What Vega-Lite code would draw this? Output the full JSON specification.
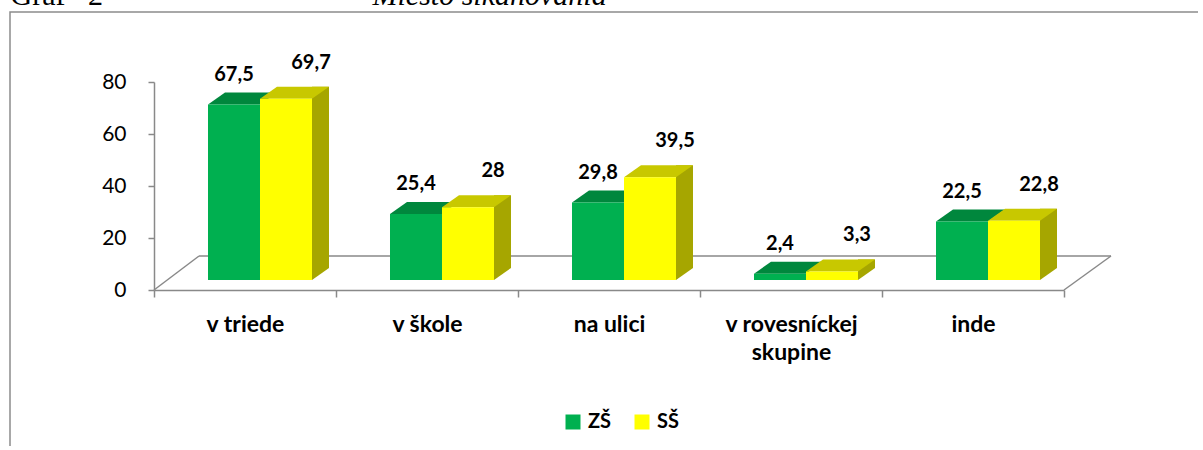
{
  "$schema": "https://vega.github.io/schema/vega-lite/v6.json",
  "width": 1194,
  "height": 440,
  "autosize": "none",
  "padding": {"left": 10, "top": 12, "right": -6, "bottom": -6},
  "background": "white",
  "config": {
    "view": {"stroke": "#8c8c8c", "strokeWidth": 1.5},
    "font": "Lato",
    "locale": {"number": {"decimal": ",", "thousands": " ", "grouping": [3], "currency": ["", " €"]}}
  },
  "layer": [
    {
      "data": {"values": [{}]},
      "layer": [
        {
          "mark": {"type": "rule", "color": "#898989", "strokeWidth": 1.5, "xOffset": 45, "x2Offset": 47, "yOffset": -34, "y2Offset": -34},
          "encoding": {
            "x": {"datum": 0, "type": "quantitative", "scale": {"domain": [0, 1], "range": [144, 1054], "nice": false, "zero": false}, "axis": null},
            "x2": {"datum": 1},
            "y": {"datum": 0, "type": "quantitative"},
            "y2": {"datum": 0}
          }
        },
        {
          "mark": {"type": "rule", "color": "#898989", "strokeWidth": 1.5, "x2Offset": 45, "y2Offset": -34},
          "encoding": {
            "x": {"datum": 0, "type": "quantitative", "scale": {"domain": [0, 1], "range": [144, 1054], "nice": false, "zero": false}, "axis": null},
            "x2": {"datum": 0},
            "y": {"datum": 0, "type": "quantitative"},
            "y2": {"datum": 0}
          }
        },
        {
          "mark": {"type": "rule", "color": "#898989", "strokeWidth": 1.5, "x2Offset": 47, "y2Offset": -34},
          "encoding": {
            "x": {"datum": 1, "type": "quantitative", "scale": {"domain": [0, 1], "range": [144, 1054], "nice": false, "zero": false}, "axis": null},
            "x2": {"datum": 1},
            "y": {"datum": 0, "type": "quantitative"},
            "y2": {"datum": 0}
          }
        }
      ]
    },
    {
      "data": {"values": [
        {"k": "v triede", "s": "ZŠ", "v": 67.5},
        {"k": "v triede", "s": "SŠ", "v": 69.7},
        {"k": "v škole", "s": "ZŠ", "v": 25.4},
        {"k": "v škole", "s": "SŠ", "v": 28},
        {"k": "na ulici", "s": "ZŠ", "v": 29.8},
        {"k": "na ulici", "s": "SŠ", "v": 39.5},
        {"k": "v rovesníckej skupine", "s": "ZŠ", "v": 2.4},
        {"k": "v rovesníckej skupine", "s": "SŠ", "v": 3.3},
        {"k": "inde", "s": "ZŠ", "v": 22.5},
        {"k": "inde", "s": "SŠ", "v": 22.8}
      ]},
      "encoding": {
        "x": {
          "field": "k", "type": "nominal",
          "sort": ["v triede", "v škole", "na ulici", "v rovesníckej skupine", "inde"],
          "scale": {"range": [144, 1054], "paddingInner": 0, "paddingOuter": 0},
          "axis": {
            "title": "Graf\u00a0\u00a0\u00a02", "titleX": 0, "titleY": -286, "titleAlign": "left", "titleAnchor": "start", "titleBaseline": "alphabetic",
            "titleFont": "Liberation Serif", "titleFontSize": 30, "titleFontWeight": "normal", "titleColor": "black",
            "offset": -162, "tickBand": "extent", "tickSize": 7, "tickColor": "#898989", "tickWidth": 1.5,
            "domainColor": "#898989", "domainWidth": 1.5, "grid": false,
            "labelFont": "Lato", "labelFontWeight": "bold", "labelFontSize": 23, "labelColor": "black",
            "labelPadding": 16, "labelAngle": 0, "labelLineHeight": 28, "labelBaseline": "top",
            "labelExpr": "datum.label == 'v rovesníckej skupine' ? ['v rovesníckej', 'skupine'] : datum.label"
          }
        }
      },
      "layer": [
        {
          "transform": [{"filter": "datum.s === 'SŠ'"}],
          "mark": {"type": "bar", "width": 17, "xOffset": 75.5, "yOffset": -22, "y2Offset": -22, "fill": "#A6A600"},
          "encoding": {
            "y": {
              "field": "v", "type": "quantitative",
              "scale": {"domain": [0, 80], "range": [278, 70], "nice": false},
              "axis": {
                "title": "Miesto šikanovania", "titleAngle": 0, "titleX": 218, "titleY": -8, "titleAlign": "left", "titleAnchor": "start", "titleBaseline": "alphabetic",
                "titleFont": "Liberation Serif", "titleFontSize": 30, "titleFontWeight": "normal", "titleFontStyle": "italic", "titleColor": "black",
                "offset": -144, "values": [0, 20, 40, 60, 80], "tickSize": 6, "tickColor": "#898989", "tickWidth": 1.5,
                "domainColor": "#898989", "domainWidth": 1.5, "grid": false,
                "labelFont": "Lato", "labelFontSize": 21, "labelColor": "black", "labelPadding": 22
              }
            }
          }
        },
        {
          "transform": [{"filter": "datum.s === 'SŠ'"}],
          "mark": {"type": "point", "shape": "M67,-12L67,0L84,-12Z", "size": 4, "filled": true, "opacity": 1, "strokeWidth": 0, "fill": "#A6A600", "yOffset": -10},
          "encoding": {
            "y": {"datum": 0, "type": "quantitative"}
          }
        },
        {
          "mark": {"type": "point", "shape": "M-26,0L26,0L43,-12L-9,-12Z", "size": 4, "filled": true, "opacity": 1, "strokeWidth": 0, "yOffset": -10},
          "encoding": {
            "xOffset": {"field": "s", "type": "nominal", "sort": ["ZŠ", "SŠ"], "scale": {"paddingInner": 0, "paddingOuter": 0.75, "align": 0.6923}},
            "y": {"field": "v", "type": "quantitative"},
            "fill": {"condition": {"test": "datum.s === 'ZŠ'", "value": "#00873D"}, "value": "#C8C800"}
          }
        },
        {
          "mark": {"type": "bar", "yOffset": -10, "y2Offset": -10},
          "encoding": {
            "xOffset": {"field": "s", "type": "nominal", "sort": ["ZŠ", "SŠ"], "scale": {"paddingInner": 0, "paddingOuter": 0.75, "align": 0.6923}},
            "y": {"field": "v", "type": "quantitative"},
            "color": {
              "field": "s", "type": "nominal",
              "scale": {"domain": ["ZŠ", "SŠ"], "range": ["#00B050", "#FFFF00"]},
              "legend": {
                "orient": "none", "legendX": 553, "legendY": 400, "direction": "horizontal", "title": null,
                "symbolType": "square", "symbolSize": 225, "symbolStrokeWidth": 0, "symbolOpacity": 1,
                "labelFont": "Lato", "labelFontWeight": "bold", "labelFontSize": 20, "labelColor": "black",
                "columnPadding": 20, "labelOffset": 5, "padding": 0
              }
            }
          }
        },
        {
          "transform": [{"filter": "datum.s === 'ZŠ'"}],
          "mark": {"type": "text", "font": "Lato", "fontWeight": "bold", "fontSize": 20, "color": "black", "baseline": "alphabetic", "yOffset": -10, "dy": -24},
          "encoding": {
            "xOffset": {"field": "s", "type": "nominal", "sort": ["ZŠ", "SŠ"], "scale": {"paddingInner": 0, "paddingOuter": 0.75, "align": 0.6923}},
            "y": {"field": "v", "type": "quantitative"},
            "text": {"field": "v", "type": "quantitative", "format": ".1~f"}
          }
        },
        {
          "transform": [{"filter": "datum.s === 'SŠ'"}],
          "mark": {"type": "text", "font": "Lato", "fontWeight": "bold", "fontSize": 20, "color": "black", "baseline": "alphabetic", "yOffset": -10, "dx": 25, "dy": -30},
          "encoding": {
            "xOffset": {"field": "s", "type": "nominal", "sort": ["ZŠ", "SŠ"], "scale": {"paddingInner": 0, "paddingOuter": 0.75, "align": 0.6923}},
            "y": {"field": "v", "type": "quantitative"},
            "text": {"field": "v", "type": "quantitative", "format": ".1~f"}
          }
        }
      ]
    }
  ],
  "resolve": {"scale": {"x": "independent"}, "axis": {"x": "independent"}}
}
